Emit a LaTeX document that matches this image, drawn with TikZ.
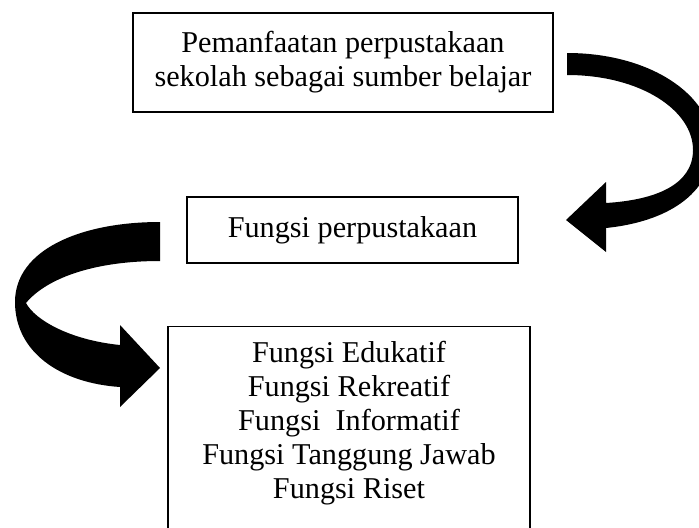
\documentclass[tikz,border=0pt]{standalone}
\usepackage{fontspec}
\setmainfont{Liberation Serif}
\usepackage{tikz}
\usetikzlibrary{positioning}

\begin{document}
\begin{tikzpicture}[x=0.43pt, y=-0.43pt, box/.style={draw, line width=0.6pt, rectangle, align=center, font=\fontsize{13pt}{14.6pt}\selectfont}]
\useasboundingbox (0,0) rectangle (699,527);
\clip (0,0) rectangle (699,527);

\node[box, minimum width=180.6pt, minimum height=42.6pt] (Pemanfaatan) at (343,62.5) {Pemanfaatan perpustakaan\\sekolah sebagai sumber belajar};
\node[box, minimum width=142.3pt, minimum height=28.4pt] (FungsiPerpus) at (352.5,230) {Fungsi perpustakaan};
\node[box, anchor=north, minimum width=155.7pt, minimum height=95pt] (FungsiBox) at (349,326) {};
\node[box, draw=none] (FungsiList) at (349,423) {Fungsi Edukatif\\Fungsi Rekreatif\\Fungsi\ \ Informatif\\Fungsi Tanggung Jawab\\Fungsi Riset};

\fill[black] (567,53) .. controls (650,53) and (712,95) .. (712,145) .. controls (712,195) and (665,222) .. (606,228) -- (606,252) -- (566,220) -- (606,182) -- (606,203) .. controls (655,200) and (693,185) .. (693,150) .. controls (693,110) and (640,75) .. (567,75) -- cycle;

\fill[black] (160,222) .. controls (80,222) and (15,250) .. (15,302) .. controls (15,352) and (60,383) .. (120,387) -- (120,407) -- (160,368) -- (120,325) -- (120,345) .. controls (70,340) and (35,320) .. (26,303) .. controls (45,280) and (90,261) .. (160,261) -- cycle;
\end{tikzpicture}
\end{document}
